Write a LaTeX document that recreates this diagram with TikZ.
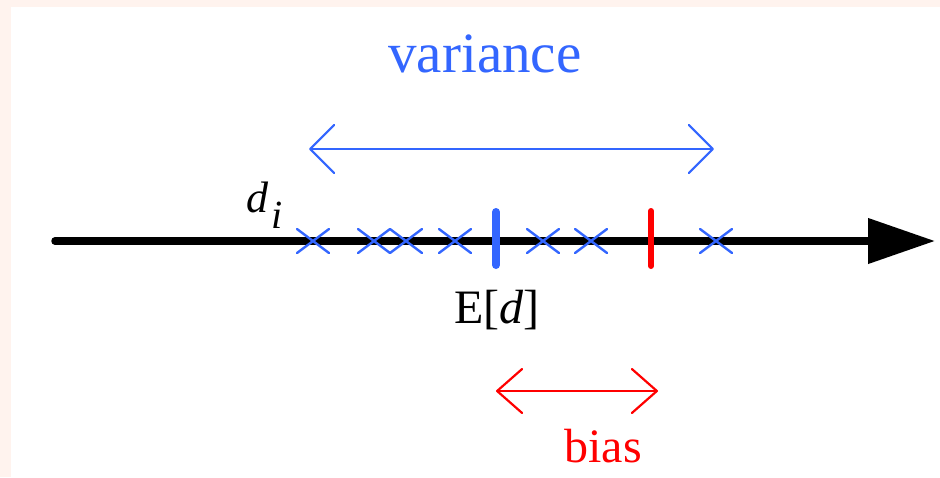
\documentclass[tikz,border=0pt]{standalone}
\usepackage{fontspec}
\setmainfont{Liberation Serif}
\usetikzlibrary{arrows.meta}
\definecolor{vblue}{RGB}{51,102,255}
\definecolor{bred}{RGB}{255,0,0}
\definecolor{pinkbg}{RGB}{255,243,238}
\tikzset{
  lbl/.style={inner sep=0pt, anchor=base},
  crossmark/.style={vblue, line width=2.4pt, line cap=round},
  rangearrow/.style={line width=2.2pt, {Straight Barb[length=24pt,width=48pt,round]}-{Straight Barb[length=24pt,width=48pt,round]}},
}
\begin{document}
\begin{tikzpicture}[x=1pt,y=-1pt]
\fill[pinkbg] (0,0) rectangle (940,477);
\fill[white] (11,7) rectangle (940,477);
\useasboundingbox (0,0) rectangle (940,477);
% axis
\coordinate (axstart) at (55,241);
\coordinate (axend) at (935,241);
\draw[line width=7.5pt, line cap=round, -{Triangle[length=67pt,width=44pt]}] (axstart) -- (axend);
% samples
\foreach \cx [count=\k] in {313,374,406,455,543,591,716}{
  \coordinate (s\k) at (\cx,241);
  \draw[crossmark] ([shift={(-16,-12)}]s\k) -- ([shift={(16,12)}]s\k);
  \draw[crossmark] ([shift={(-16,12)}]s\k) -- ([shift={(16,-12)}]s\k);
}
% expectation and true value
\coordinate (ed1) at (496,212); \coordinate (ed2) at (496,265);
\draw[vblue, line width=8pt, line cap=round] (ed1) -- (ed2);
\coordinate (tv1) at (651,211); \coordinate (tv2) at (651,266);
\draw[bred, line width=6pt, line cap=round] (tv1) -- (tv2);
% variance
\coordinate (va) at (309,149); \coordinate (vb) at (714,149);
\draw[vblue, rangearrow] (va) -- (vb);
\node[lbl, vblue, font=\fontsize{57}{60}\selectfont] (vtext) at (485,72) {variance};
% bias
\coordinate (ba) at (496,391); \coordinate (bb) at (658,391);
\draw[bred, rangearrow, {Straight Barb[length=25pt,width=44pt,round]}-{Straight Barb[length=25pt,width=44pt,round]}] (ba) -- (bb);
\node[lbl, bred, font=\fontsize{48}{50}\selectfont] (btext) at (603,462) {bias};
% labels
\node[lbl, font=\fontsize{48}{50}\selectfont] (edtext) at (497,323) {E[\textit{d}]};
\node[lbl, anchor=base west, font=\fontsize{44}{48}\selectfont] (dtext) at (246,212) {\textit{d}};
\node[lbl, anchor=base west, font=\fontsize{40}{44}\selectfont] (itext) at (271,228) {\textit{i}};
\end{tikzpicture}
\end{document}
